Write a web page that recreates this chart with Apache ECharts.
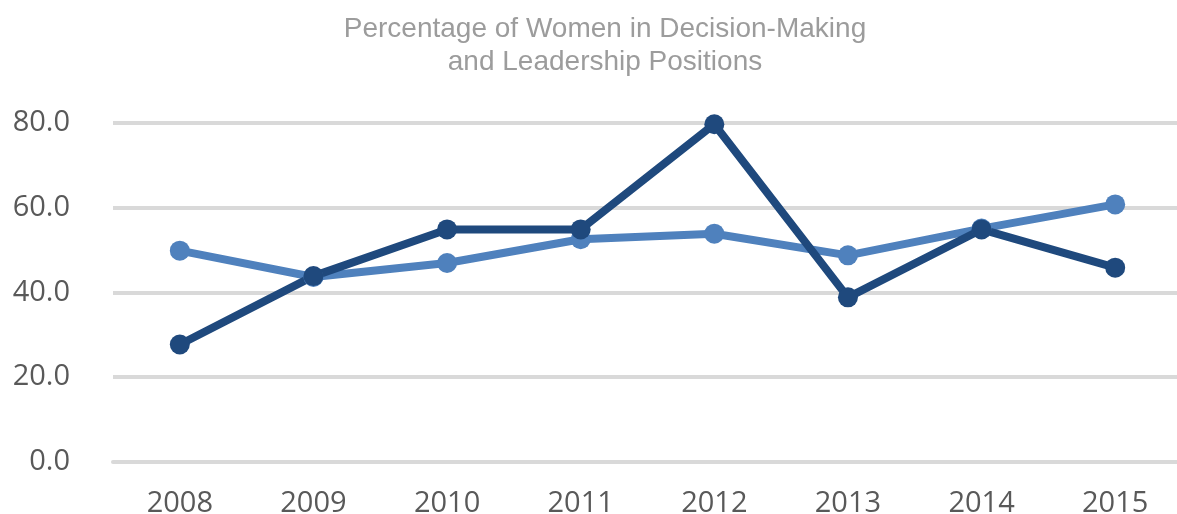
<!DOCTYPE html>
<html>
<head>
<meta charset="utf-8">
<style>
html, body { margin: 0; padding: 0; background: #fff; }
#chart { width: 1177px; height: 514px; }
</style>
<script src="https://cdn.jsdelivr.net/npm/echarts@6/dist/echarts.min.js"></script>
</head>
<body>
<div id="chart"></div>
<script>
var years = ['2008', '2009', '2010', '2011', '2012', '2013', '2014', '2015'];
var lightValues = [49.8, 43.6, 46.9, 52.5, 53.8, 48.7, 55.0, 60.7];
var darkValues = [27.7, 43.8, 54.8, 54.8, 79.6, 38.8, 54.8, 45.8];

var chart = echarts.init(document.getElementById('chart'));
var option = {
    animation: false,
    title: {
        text: 'Percentage of Women in Decision-Making\nand Leadership Positions',
        left: 600,
        textAlign: 'center',
        top: 8,
        textStyle: {
            fontFamily: 'Liberation Sans',
            fontSize: 28,
            fontWeight: 'normal',
            color: '#9c9c9c',
            lineHeight: 33
        }
    },
    grid: {
        left: 113,
        width: 1069,
        top: 122.5,
        bottom: 52,
        outerBoundsMode: 'none'
    },
    xAxis: {
        type: 'category',
        data: years,
        boundaryGap: true,
        axisLine: { lineStyle: { color: '#d9d9d9', width: 4 } },
        axisTick: { show: false },
        axisLabel: {
            fontFamily: 'Open Sans',
            fontSize: 29,
            color: '#595959',
            margin: 27
        }
    },
    yAxis: {
        type: 'value',
        min: 0,
        max: 80,
        interval: 20,
        axisLine: { show: false },
        axisTick: { show: false },
        splitLine: { lineStyle: { color: '#d9d9d9', width: 4 } },
        axisLabel: {
            fontFamily: 'Open Sans',
            fontSize: 29,
            color: '#595959',
            margin: 43,
            formatter: function (v) { return v.toFixed(1); }
        }
    },
    series: [{
        name: 'Series 1',
        type: 'line',
        data: lightValues,
        symbol: 'circle',
        symbolSize: 20,
        lineStyle: { color: '#4f81bd', width: 8 },
        itemStyle: { color: '#4f81bd' }
    }, {
        name: 'Series 2',
        type: 'line',
        data: darkValues,
        symbol: 'circle',
        symbolSize: 20,
        lineStyle: { color: '#1f497d', width: 8 },
        itemStyle: { color: '#1f497d' }
    }]
};
chart.setOption(option);
</script>
</body>
</html>
